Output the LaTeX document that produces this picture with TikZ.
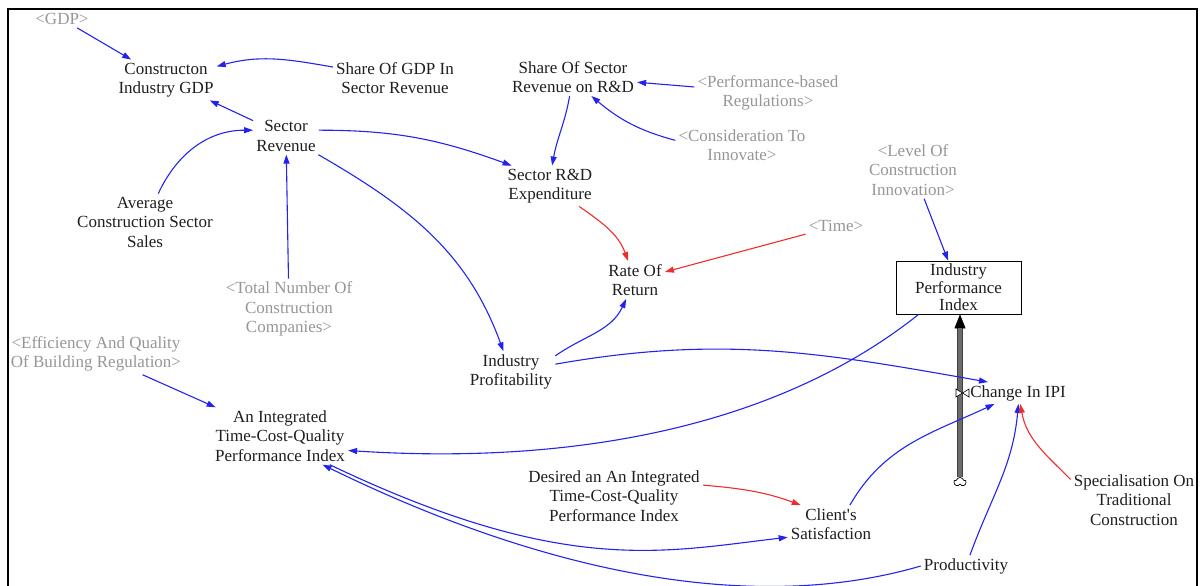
\documentclass[tikz,border=0pt]{standalone}
\usepackage{fontspec}
\setmainfont{Liberation Serif}
\usetikzlibrary{arrows.meta,shapes.symbols}
\definecolor{linkblue}{RGB}{35,35,235}
\definecolor{linkred}{RGB}{240,45,45}
\definecolor{ghosttext}{RGB}{150,150,150}
\definecolor{vartext}{RGB}{30,30,30}

\begin{document}
\begin{tikzpicture}[x=1pt,y=-1pt,
  varnode/.style={align=center, inner sep=3pt, text=vartext,
    font=\fontsize{17}{19.5}\selectfont},
  ghostnode/.style={varnode, text=ghosttext},
  stocknode/.style={draw=black, line width=0.8pt, minimum width=125pt,
    minimum height=53pt, inner sep=1pt, align=center, text=vartext,
    font=\fontsize{17}{17.5}\selectfont},
  bluelink/.style={draw=linkblue, line width=1.1pt,
    -{Triangle[length=9pt,width=6pt]}},
  redlink/.style={bluelink, draw=linkred},
]
\useasboundingbox (0,0) rectangle (1200,586);

% frame, open at the bottom
\draw[line width=2pt, line join=miter] (8,586) -- (8,9) -- (1197,9) -- (1197,586);

% variables
\node[ghostnode] (gdp)     at (62,19)    {\textless GDP\textgreater};
\node[varnode]   (cigdp)   at (166,80)   {Constructon\\Industry GDP};
\node[varnode]   (share)   at (395,78)   {Share Of GDP In\\Sector Revenue};
\node[varnode]   (srev)    at (286,136)  {Sector\\Revenue};
\node[varnode]   (avg)     at (145,222)  {Average\\Construction Sector\\Sales};
\node[ghostnode] (total)   at (289,309)  {\textless Total Number Of\\Construction\\Companies\textgreater};
\node[varnode]   (ssr)     at (573,77)   {Share Of Sector\\Revenue on R\&D};
\node[ghostnode] (perf)    at (768,93)   {\textless Performance-based\\Regulations\textgreater};
\node[ghostnode] (consid)  at (742,145)  {\textless Consideration To\\Innovate\textgreater};
\node[varnode]   (srd)     at (550,186)  {Sector R\&D\\Expenditure};
\node[ghostnode] (time)    at (836,226)  {\textless Time\textgreater};
\node[varnode]   (ror)     at (635,280)  {Rate Of\\Return};
\node[ghostnode] (level)   at (913,170)  {\textless Level Of\\Construction\\Innovation\textgreater};
\node[stocknode] (ipi)     at (958.5,287.5) {Industry\\Performance\\Index};
\node[varnode]   (prof)    at (511,372)  {Industry\\Profitability};
\node[ghostnode] (eff)     at (96,354)   {\textless Efficiency And Quality\\Of Building Regulation\textgreater};
\node[varnode]   (tcq)     at (280,436)  {An Integrated\\Time-Cost-Quality\\Performance Index};
\node[varnode]   (chg)     at (1018,393) {Change In IPI};
\node[varnode]   (desired) at (614,496)  {Desired an An Integrated\\Time-Cost-Quality\\Performance Index};
\node[varnode]   (client)  at (831,524)  {Client\textquotesingle s\\Satisfaction};
\node[varnode]   (spec)    at (1134,500) {Specialisation On\\Traditional\\Construction};
\node[varnode]   (prod)    at (966,566)  {Productivity};

% inflow into the stock: cloud source, pipe and valve
\node[cloud, draw=black, line width=0.7pt, cloud puffs=5, aspect=1.3,
  minimum width=12pt, minimum height=9pt, inner sep=0pt] (src) at (960,482) {};
\draw[line width=6pt, draw=black!75,
  -{Triangle[length=14pt,width=11pt,line width=0.5pt,color=black,fill=black]}]
  (src.north) -- (src.north |- ipi.south);
\draw[line width=4pt, gray!85!black, shorten >=14pt]
  (src.north) -- (src.north |- ipi.south);
\draw[black, line width=0.6pt, fill=white]
  (956,389) -- (969,397) -- (969,389) -- (956,397) -- cycle;

% causal links
\draw[bluelink] (gdp) -- (cigdp);
\draw[bluelink] (share.170) to[out=170,in=15] (cigdp.15);
\draw[bluelink] (srev) -- (cigdp);
\draw[bluelink] (avg.65) to[out=65,in=180] (srev.170);
\draw[bluelink] (total) -- (srev);
\draw[bluelink] (srev.10) to[out=0,in=160] (srd.152);
\draw[bluelink] (srev.-30) to[out=-30,in=110] (prof.110);
\draw[bluelink] (ssr.-100) to[out=-100,in=80] (srd.84);
\draw[bluelink] (perf) -- (ssr);
\draw[bluelink] (consid.176) to[out=165,in=-40] (ssr.-46);
\draw[redlink]  (srd.-35) to[out=-35,in=110] (ror.110);
\draw[redlink]  (time) -- (ror);
\draw[bluelink] (prof.20) to[out=35,in=-115] (ror.-115);
\draw[bluelink] (prof.10) to[out=10,in=170] (chg.160);
\draw[bluelink] (level) -- (ipi);
\draw[bluelink] (ipi.214) .. controls (776,428) and (571,465) .. (tcq.-12);
\draw[bluelink] (eff) -- (tcq);
\draw[bluelink] (tcq.-30) .. controls (563,576) and (662,552) .. (client.197);
\draw[bluelink] (prod.west) .. controls (750,616) and (540,571) .. (tcq.-34);
\draw[bluelink] (client.45) to[out=60,in=-155] (chg.-155);
\draw[bluelink] (prod.70) to[out=70,in=-95] (chg.-88);
\draw[redlink]  (spec.162) to[out=135,in=-80] (chg.-78);
\draw[redlink]  (desired.7) to[out=-5,in=160] (client.148);
\end{tikzpicture}
\end{document}
